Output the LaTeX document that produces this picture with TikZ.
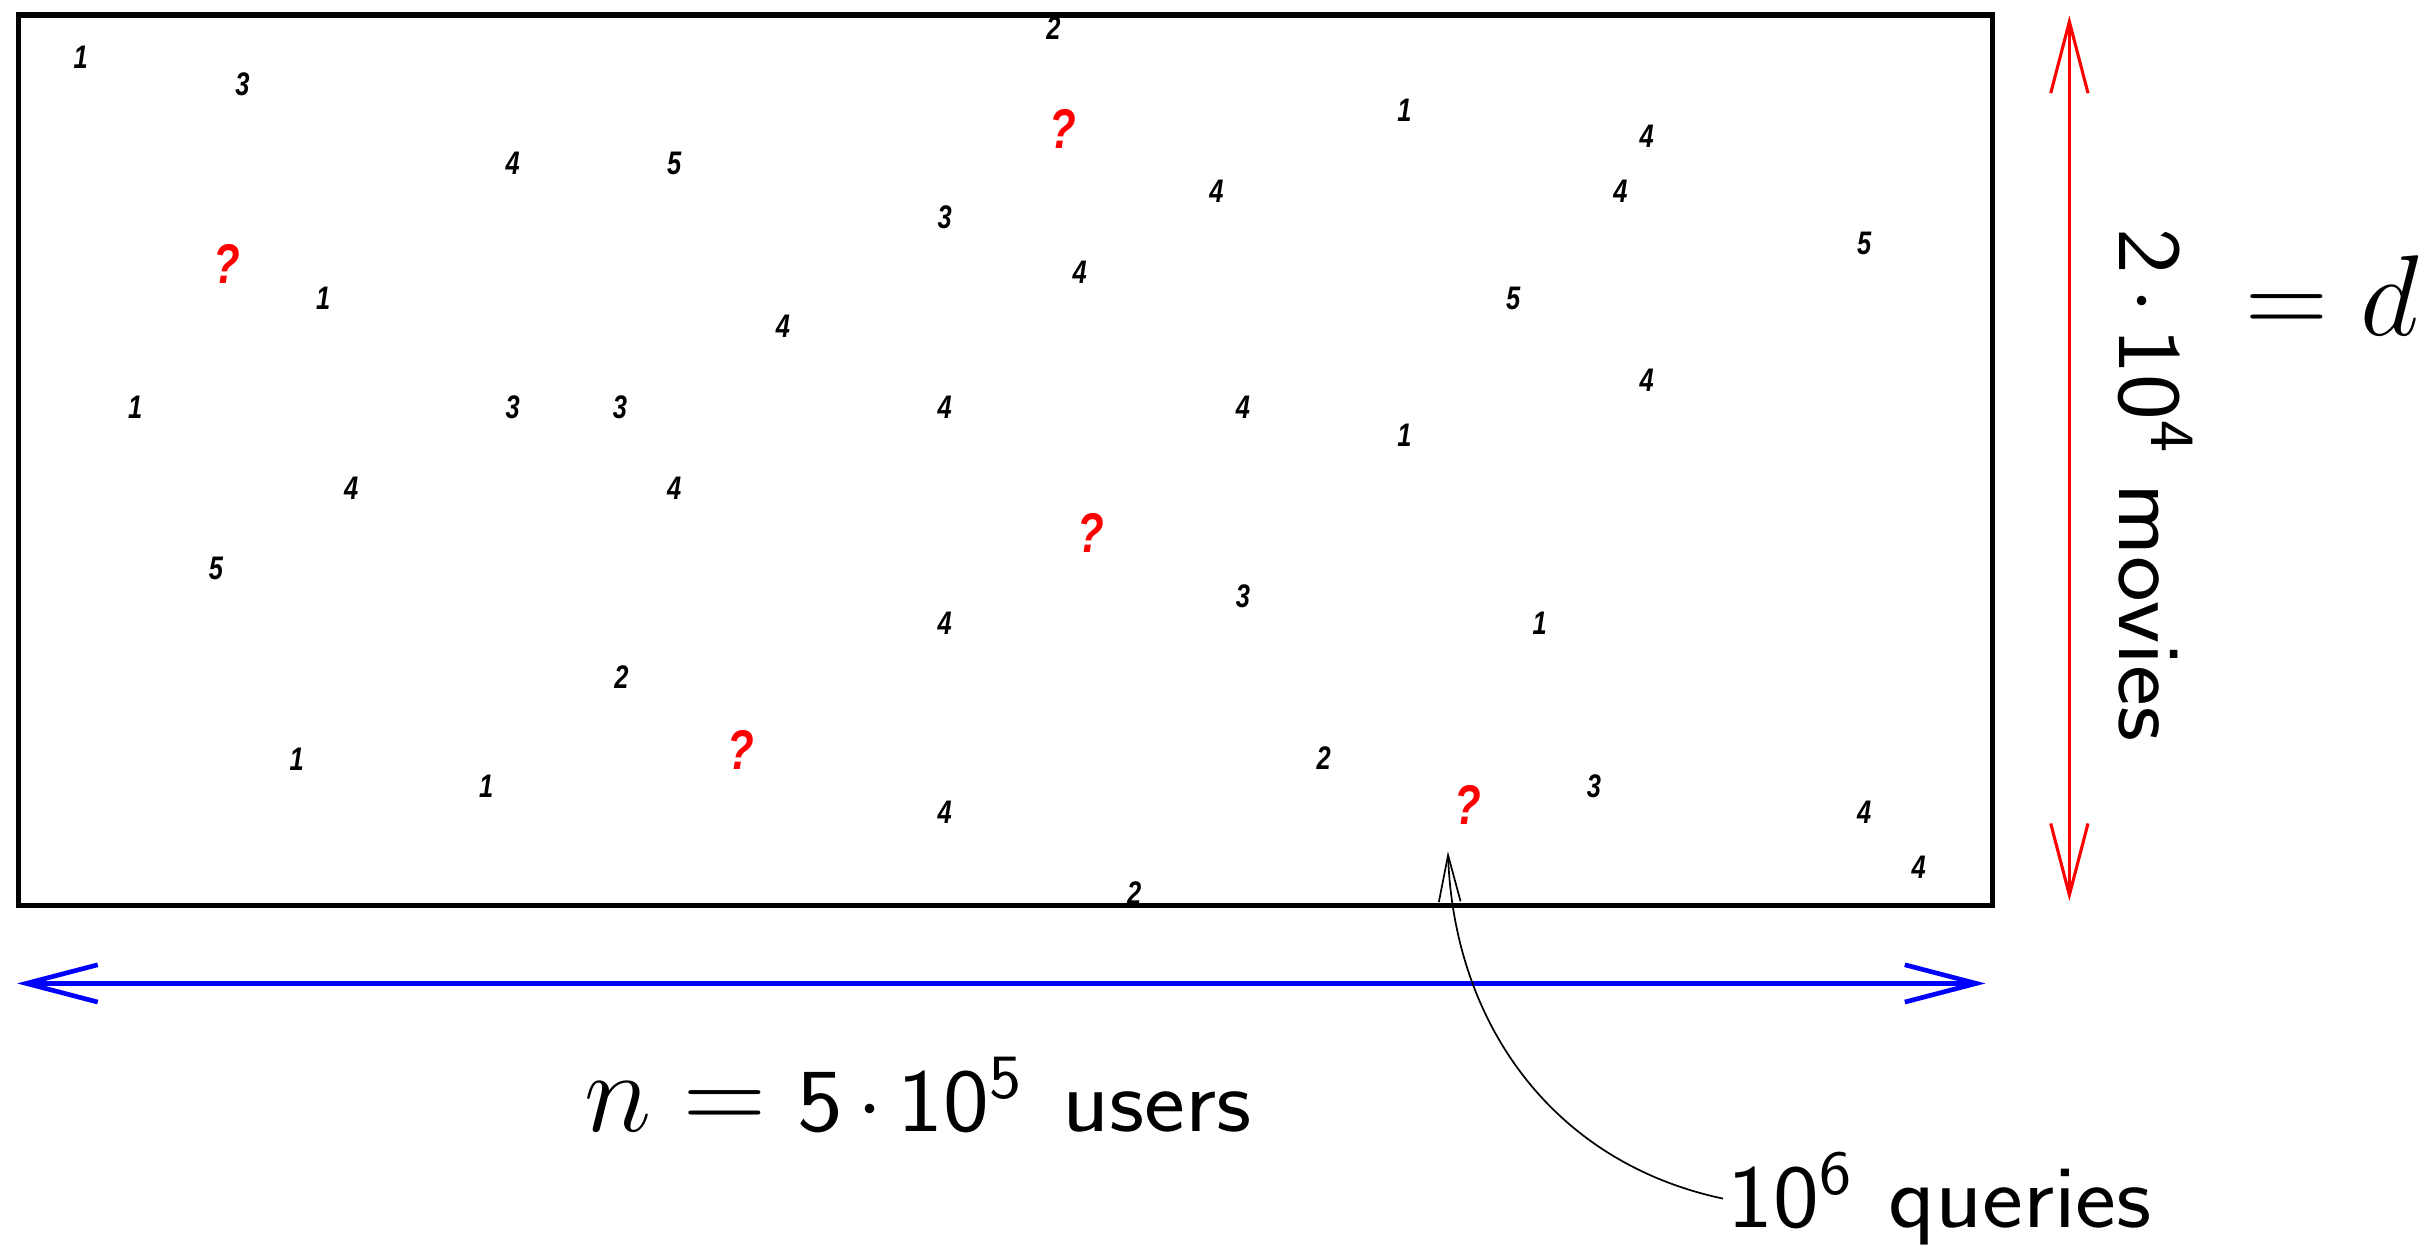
\RequirePackage{fix-cm}
\documentclass[tikz,border=0pt]{standalone}
\usepackage{fontspec}
\setsansfont{Latin Modern Sans}[FakeStretch=1.08]
\usetikzlibrary{arrows.meta}
\newfontfamily\ratingfont{Liberation Sans}[FakeStretch=0.78]
\begin{document}
\begin{tikzpicture}[x=1pt,y=1pt,
  rating/.style={font=\ratingfont\bfseries\itshape\fontsize{21}{22}\selectfont, inner sep=0pt},
  unknown/.style={font=\ratingfont\bfseries\itshape\fontsize{36}{37}\selectfont, text=red, inner sep=0pt},
  biglabel/.style={font=\sffamily\fontsize{58}{60}\selectfont, inner sep=0pt},
  dimarrow/.style={line width=#1, {Straight Barb[length=46pt,width=24pt]}-{Straight Barb[length=46pt,width=24pt]}},
]
\useasboundingbox (0,0) rectangle (1568,-801);
\node[draw, line width=3.3pt, minimum width=1271pt, minimum height=573pt, inner sep=0pt, anchor=north west] (matrix) at (10,-8) {};

\foreach \x/\y/\t [count=\i] in {52/37/1, 156/54/3, 678/18/2, 904/71/1, 1060/88/4, 330/105/4, 434/105/5, 783/123/4, 1043/123/4, 608/140/3, 1200/157/5, 695/175/4, 208/192/1, 974/192/5, 504/210/4, 1060/245/4, 87/262/1, 330/262/3, 399/262/3, 608/262/4, 800/262/4, 904/280/1, 226/314/4, 434/314/4, 139/366/5, 800/384/3, 608/401/4, 991/401/1, 400/436/2, 191/489/1, 852/488/2, 313/506/1, 1026/506/3, 608/523/4, 1200/523/4, 1235/558/4, 730/575/2}
  \node[rating] (r\i) at (\x,-\y) {\t};

\foreach \x/\y [count=\i] in {684/83, 146/170, 702/343, 477/483, 945/518}
  \node[unknown] (q\i) at (\x,-\y) {?};

\coordinate (mtop) at (1332,-10);
\coordinate (mbot) at (1332,-580);
\draw[red, dimarrow=2pt] (mtop) -- (mbot);

\coordinate (uleft) at (11,-633);
\coordinate (uright) at (1278,-633);
\draw[blue, dimarrow=3pt] (uleft) -- (uright);

\node[biglabel, rotate=-90, anchor=base] (movies) at (1364,-312) {2\,$\cdot$\,10\textsuperscript{4} movies};
\node[inner sep=0pt, anchor=base, font=\fontsize{74}{76}\selectfont] (dlabel) at (1501,-216) {$=d$};
\node[biglabel, anchor=base] (users) at (591,-728) {{\fontsize{74}{76}\selectfont$n=$} 5\,$\cdot$\,10\textsuperscript{5}\hspace{0.45em}users};
\node[biglabel, anchor=base west] (queries) at (1112,-790) {10\textsuperscript{6}\hspace{0.4em}queries};

\coordinate (qtip) at (932,-548);
\draw[line width=1.1pt, -{Straight Barb[length=30pt,width=14pt]}] ([xshift=-3pt]queries.west) to[out=168,in=-88] (qtip);
\end{tikzpicture}
\end{document}
